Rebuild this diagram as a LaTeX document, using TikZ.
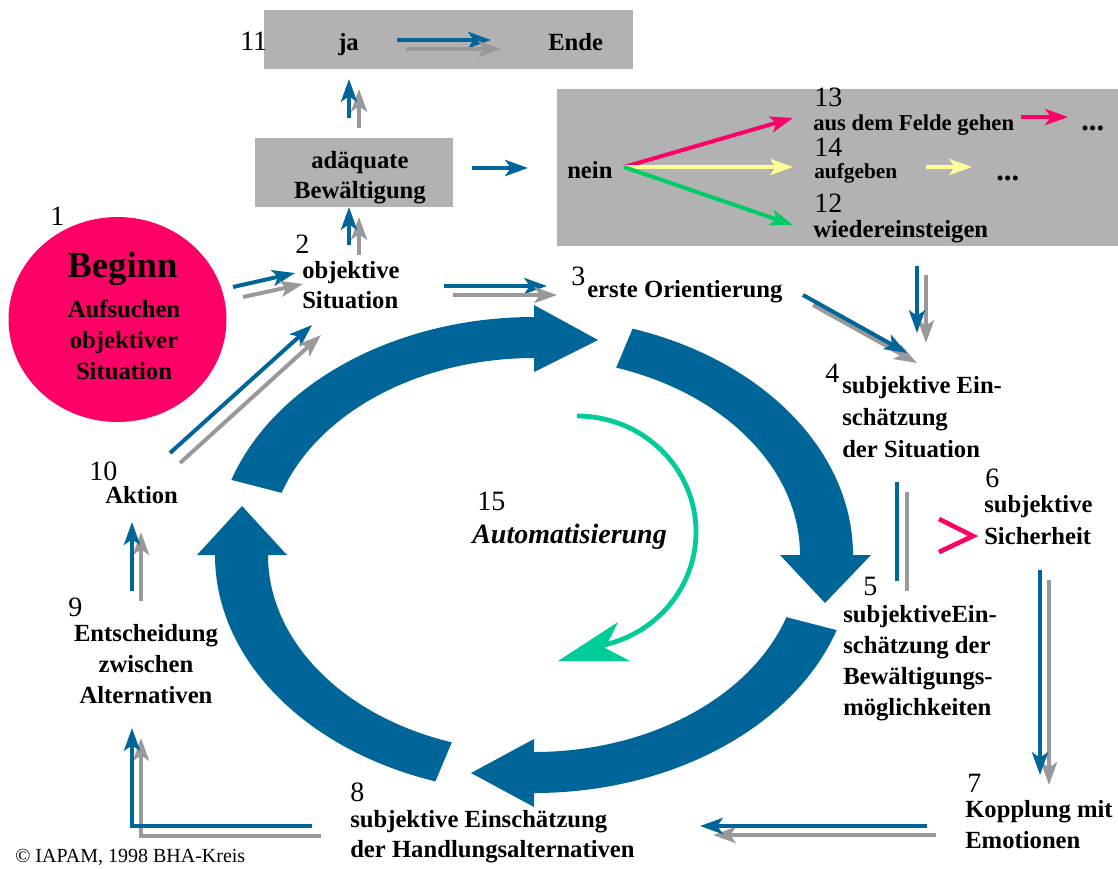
\documentclass[tikz,border=0pt]{standalone}
\usepackage{fontspec}
\setmainfont{Liberation Serif}
\usetikzlibrary{arrows.meta,shapes.geometric}
\definecolor{myblue}{RGB}{0,102,153}
\definecolor{mygray}{RGB}{153,153,153}
\definecolor{boxgray}{RGB}{178,178,178}
\definecolor{mypink}{RGB}{255,0,102}
\definecolor{myyellow}{RGB}{255,255,153}
\definecolor{mygreen}{RGB}{0,204,102}
\definecolor{myteal}{RGB}{0,204,153}
\tikzset{
  txt/.style={font=\bfseries\fontsize{18.5}{23.25}\selectfont, inner sep=0pt, align=left, anchor=base west},
  num/.style={font=\fontsize{21}{21}\selectfont, inner sep=0pt, anchor=base west},
  graybox/.style={fill=boxgray, draw=none, rectangle, inner sep=0pt},
  tip/.style={-{Stealth[length=17pt,width=12pt,inset=4pt]}},
  bl/.style={draw=myblue, line width=3pt, tip},
  gr/.style={draw=mygray, line width=3pt, tip},
  blline/.style={draw=myblue, line width=3pt},
  grline/.style={draw=mygray, line width=3pt},
  colarrow/.style={line width=3pt, tip},
  ring/.style={fill=myblue, draw=none},
}
\begin{document}
\begin{tikzpicture}[x=0.75pt,y=-0.75pt]
\useasboundingbox (0,0) rectangle (1118,868);

% gray boxes
\node[graybox, minimum width=276.75pt, minimum height=44.25pt] (box11) at (448.5,39.5) {};
\node[graybox, minimum width=148.5pt, minimum height=51.75pt] (boxadq) at (354,172.5) {};
\node[graybox, minimum width=420.75pt, minimum height=117.75pt] (boxnein) at (837.5,167.5) {};

% Beginn circle
\node[ellipse, fill=mypink, inner sep=0pt, minimum width=163.5pt, minimum height=153.75pt] (circ) at (117.5,319.5) {};

% ring arrows
\fill[ring] ({534+319*cos(-161.6)},{555+238*sin(-161.6)}) arc[start angle=-161.6, end angle=-90, x radius=319, y radius=238]
  -- (534,305) -- (598,340) -- (534,372) -- (534,358)
  arc[start angle=-90, end angle=-161.6, x radius=266, y radius=197] -- cycle;
\fill[ring] ({534+319*cos(-72)},{555+238*sin(-72)}) arc[start angle=-72, end angle=0, x radius=319, y radius=238]
  -- (871,555) -- (825,603) -- (780,555) -- (800,555)
  arc[start angle=0, end angle=-72, x radius=266, y radius=197] -- cycle;
\fill[ring] ({534+319*cos(18.4)},{555+238*sin(18.4)}) arc[start angle=18.4, end angle=90, x radius=319, y radius=238]
  -- (534,807) -- (471,773) -- (534,739) -- (534,752)
  arc[start angle=90, end angle=18.4, x radius=266, y radius=197] -- cycle;
\fill[ring] ({534+319*cos(108)},{555+238*sin(108)}) arc[start angle=108, end angle=180, x radius=319, y radius=238]
  -- (197,555) -- (242,506) -- (287,555) -- (268,555)
  arc[start angle=180, end angle=108, x radius=266, y radius=197] -- cycle;

% teal automatisation arrow
\draw[myteal, line width=3.6pt] (577,416) arc[start angle=-90, end angle=77, x radius=119, y radius=116];
\fill[myteal] (558,661) -- (618,622) -- (605,648) -- (630,661) -- cycle;

% texts (multi-line nodes: base anchor = last line's baseline)
\node[num] (n11) at (240,50) {11};
\node[txt] (ja) at (338,50) {ja};
\node[txt] (ende) at (548,50) {Ende};
\node[txt, align=center, anchor=base, font=\bfseries\fontsize{18.5}{22.5}\selectfont] (adq) at (360,198) {adäquate\\Bewältigung};
\node[txt] (nein) at (567,178) {nein};
\node[num] (n13) at (814,106) {13};
\node[txt, font=\bfseries\fontsize{17}{20}\selectfont] (feld) at (813,130) {aus dem Felde gehen};
\node[num] (n14) at (814,156) {14};
\node[txt, font=\bfseries\fontsize{16}{20}\selectfont] (aufg) at (814,178) {aufgeben};
\node[num] (n12) at (814,212) {12};
\node[txt] (wied) at (813,237) {wiedereinsteigen};
\node[txt, font=\bfseries\fontsize{23}{23}\selectfont] (dots1) at (1081,130) {...};
\node[txt, font=\bfseries\fontsize{23}{23}\selectfont] (dots2) at (996,180) {...};

\node[num] (n1) at (50,225) {1};
\node[txt, font=\bfseries\fontsize{27.5}{30}\selectfont, anchor=base] (beginn) at (122.5,277) {Beginn};
\node[txt, align=center, anchor=base] (aufs) at (124,379) {Aufsuchen\\objektiver\\Situation};

\node[num] (n2) at (295,253) {2};
\node[txt, font=\bfseries\fontsize{18.5}{22.5}\selectfont] (objs) at (302,308) {objektive\\Situation};
\node[num] (n3) at (571,285) {3};
\node[txt] (erste) at (587,297) {erste Orientierung};
\node[num] (n4) at (825,382) {4};
\node[txt, font=\bfseries\fontsize{18.5}{24}\selectfont] (sein) at (842,457) {subjektive Ein-\\schätzung\\der Situation};
\node[num] (n5) at (863,595) {5};
\node[txt] (sbew) at (843,715) {subjektiveEin-\\schätzung der\\Bewältigungs-\\möglichkeiten};
\node[num] (n6) at (985,487) {6};
\node[txt, font=\bfseries\fontsize{18.5}{24}\selectfont] (ssich) at (984,544) {subjektive\\Sicherheit};
\node[num] (n7) at (967,792) {7};
\node[txt] (kopp) at (965,848) {Kopplung mit\\Emotionen};
\node[num] (n8) at (350,801) {8};
\node[txt, font=\bfseries\fontsize{18.5}{22.5}\selectfont] (shand) at (350,857) {subjektive Einschätzung\\der Handlungsalternativen};
\node[num] (n9) at (68,616) {9};
\node[txt, align=center, anchor=base, font=\bfseries\fontsize{18.5}{22.9}\selectfont] (entsch) at (146,703) {Entscheidung\\zwischen\\Alternativen};
\node[num] (n10) at (89,480) {10};
\node[txt] (akt) at (105,503) {Aktion};
\node[num] (n15) at (477,510) {15};
\node[txt, font=\bfseries\itshape\fontsize{21}{24}\selectfont] (auto) at (472,543) {Automatisierung};
\node[inner sep=0pt, anchor=base west, font=\fontsize{15}{15}\selectfont] (copy) at (15,862) {© IAPAM, 1998 BHA-Kreis};

% pink >
\draw[mypink, line width=3.5pt, line join=miter] (939,519) -- (973,536) -- (939,552);

% connectors
\coordinate (jaB1) at (397,40); \coordinate (endeB1) at (491,40);
\coordinate (jaG1) at (406,49); \coordinate (endeG1) at (501,49);
\draw[bl] (jaB1) -- (endeB1);
\draw[gr] (jaG1) -- (endeG1);

\coordinate (adqB) at (349,118); \coordinate (jaB) at (349,79);
\coordinate (adqG) at (359,128); \coordinate (jaG) at (359,89);
\draw[gr] (adqG) -- (jaG);
\draw[bl] (adqB) -- (jaB);

\coordinate (adqR) at (472,168); \coordinate (neinL) at (528,168);
\draw[bl] (adqR) -- (neinL);

\coordinate (neinR) at (624,167);
\coordinate (feldL) at (793,118); \coordinate (aufgL) at (793,167); \coordinate (wiedL) at (793,225);
\draw[colarrow, mypink] (neinR) -- (feldL);
\draw[colarrow, myyellow] (neinR) -- (aufgL);
\draw[colarrow, mygreen] (neinR) -- (wiedL);
\coordinate (feldR) at (1021,117); \coordinate (dots1L) at (1068,117);
\draw[colarrow, mypink] (feldR) -- (dots1L);
\coordinate (aufgR) at (926,167); \coordinate (dots2L) at (972,167);
\draw[colarrow, myyellow] (aufgR) -- (dots2L);

\coordinate (objB) at (349,245); \coordinate (adqBB) at (349,207);
\coordinate (objG) at (359,255); \coordinate (adqGB) at (359,217);
\draw[gr] (objG) -- (adqGB);
\draw[bl] (objB) -- (adqBB);

\coordinate (circB) at (233,287); \coordinate (objLB) at (295,273);
\coordinate (circG) at (243,297); \coordinate (objLG) at (303,284);
\draw[bl] (circB) -- (objLB);
\draw[gr] (circG) -- (objLG);

\coordinate (aktB) at (170,453); \coordinate (objDB) at (312,325);
\coordinate (aktG) at (180,463); \coordinate (objDG) at (321,335);
\draw[bl] (aktB) -- (objDB);
\draw[gr] (aktG) -- (objDG);

\coordinate (objRB) at (444,286); \coordinate (ersteLB) at (547,286);
\coordinate (objRG) at (453,295); \coordinate (ersteLG) at (557,295);
\draw[bl] (objRB) -- (ersteLB);
\draw[gr] (objRG) -- (ersteLG);

\coordinate (ersteRB) at (803,295); \coordinate (s4B) at (907,353);
\coordinate (ersteRG) at (813,305); \coordinate (s4G) at (917,363);
\draw[gr] (ersteRG) -- (s4G);
\draw[bl] (ersteRB) -- (s4B);

\coordinate (neinDB) at (917,266); \coordinate (s4TB) at (917,333);
\coordinate (neinDG) at (926,275); \coordinate (s4TG) at (926,343);
\draw[gr] (neinDG) -- (s4TG);
\draw[bl] (neinDB) -- (s4TB);

\coordinate (s4DB) at (897,482); \coordinate (s5UB) at (897,581);
\coordinate (s4DG) at (907,492); \coordinate (s5UG) at (907,591);
\draw[blline] (s4DB) -- (s5UB);
\draw[grline] (s4DG) -- (s5UG);

\coordinate (s6DB) at (1040,570); \coordinate (kopB) at (1040,775);
\coordinate (s6DG) at (1049,580); \coordinate (kopG) at (1049,785);
\draw[gr] (s6DG) -- (kopG);
\draw[bl] (s6DB) -- (kopB);

\coordinate (kopLB) at (927,826); \coordinate (handRB) at (700,826);
\coordinate (kopLG) at (936,835); \coordinate (handRG) at (713,835);
\draw[gr] (kopLG) -- (handRG);
\draw[bl] (kopLB) -- (handRB);

\coordinate (handLB) at (312,826); \coordinate (cornB) at (132,826); \coordinate (entB) at (132,728);
\coordinate (handLG) at (321,836); \coordinate (cornG) at (141,836); \coordinate (entG) at (141,738);
\draw[gr] (handLG) -- (cornG) -- (entG);
\draw[bl] (handLB) -- (cornB) -- (entB);

\coordinate (entUB) at (132,591); \coordinate (aktDB) at (132,522);
\coordinate (entUG) at (141,601); \coordinate (aktDG) at (141,532);
\draw[gr] (entUG) -- (aktDG);
\draw[bl] (entUB) -- (aktDB);
\end{tikzpicture}
\end{document}
